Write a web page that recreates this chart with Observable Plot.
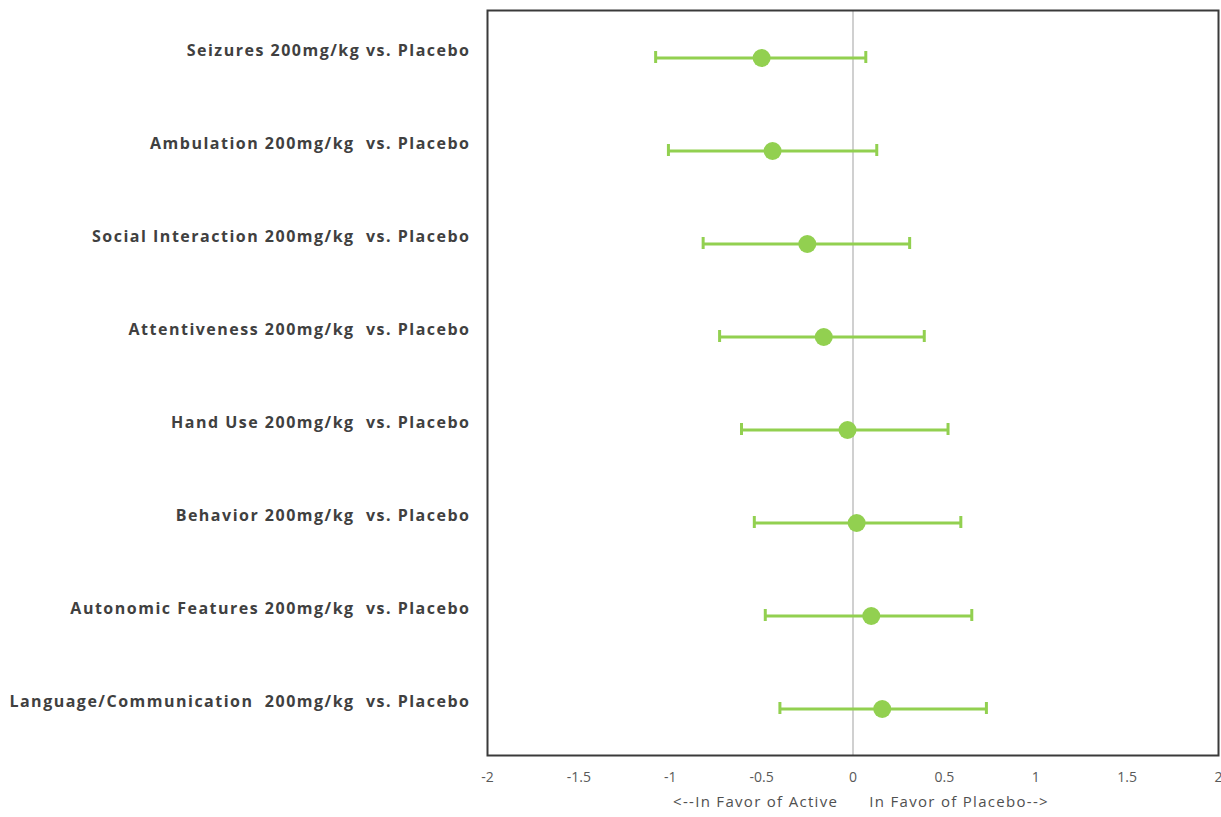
<!DOCTYPE html>
<html>
<head>
<meta charset="utf-8">
<script src="https://cdn.jsdelivr.net/npm/d3@7"></script>
<script src="https://cdn.jsdelivr.net/npm/@observablehq/plot@0.6"></script>
<style>
  html, body { margin: 0; padding: 0; background: #fff; }
  #chart svg { display: block; }
</style>
</head>
<body>
<div id="chart"></div>
<script>
const categories = [
  "Seizures 200mg/kg vs. Placebo",
  "Ambulation 200mg/kg  vs. Placebo",
  "Social Interaction 200mg/kg  vs. Placebo",
  "Attentiveness 200mg/kg  vs. Placebo",
  "Hand Use 200mg/kg  vs. Placebo",
  "Behavior 200mg/kg  vs. Placebo",
  "Autonomic Features 200mg/kg  vs. Placebo",
  "Language/Communication  200mg/kg  vs. Placebo"
];
const estimates = [-0.50, -0.44, -0.25, -0.16, -0.03, 0.02, 0.10, 0.16];
const lower     = [-1.08, -1.01, -0.82, -0.73, -0.61, -0.54, -0.48, -0.40];
const upper     = [ 0.07,  0.13,  0.31,  0.39,  0.52,  0.59,  0.65,  0.73];
const xTicks = [-2, -1.5, -1, -0.5, 0, 0.5, 1, 1.5, 2];
const xLabel = "<--In Favor of Active\u00a0\u00a0\u00a0\u00a0\u00a0\u00a0In Favor of Placebo-->";

const rows = categories.map((c, i) => ({
  label: c.replace(/ {2}/g, "\u00a0\u00a0"),
  key: c, est: estimates[i], lo: lower[i], hi: upper[i]
}));

const green = "#92D050";

const chart = Plot.plot({
  width: 1221,
  height: 817,
  marginLeft: 487,
  marginRight: 3,
  marginTop: 10,
  marginBottom: 62,
  style: { fontFamily: "'Open Sans', sans-serif", background: "#fff" },
  x: { domain: [-2, 2], ticks: xTicks },
  y: { domain: categories, padding: 0, axis: null },
  marks: [
    Plot.ruleX([0], { stroke: "#c0c0c0", strokeWidth: 1.5 }),
    Plot.frame({ stroke: "#3a3a3a", strokeWidth: 2 }),
    Plot.axisX({
      ticks: xTicks, tickSize: 0, tickPadding: 17,
      tickFormat: d => String(d),
      fontSize: 14, fill: "#595959",
      label: null
    }),
    Plot.text([xLabel], {
      text: d => d, frameAnchor: "bottom", dx: 8, dy: 51,
      fontSize: 15, fill: "#505050"
    }),
    Plot.ruleY(rows, { y: "key", x1: "lo", x2: "hi", stroke: green, strokeWidth: 3 }),
    Plot.tickX(rows, { y: "key", x: "lo", stroke: green, strokeWidth: 3, insetTop: 40, insetBottom: 41 }),
    Plot.tickX(rows, { y: "key", x: "hi", stroke: green, strokeWidth: 3, insetTop: 40, insetBottom: 41 }),
    Plot.dot(rows, { y: "key", x: "est", r: 9, fill: green, stroke: "none" }),
    Plot.text(rows, {
      y: "key", text: "label", frameAnchor: "left", textAnchor: "end",
      dx: -17, dy: -7, fontSize: 16, fontWeight: "bold", fill: "#404040"
    })
  ]
});
const rowLabels = new Set(rows.map(r => r.label));
const svg = d3.select(chart);
svg.selectAll("text").filter(function() { return rowLabels.has(this.textContent); })
  .style("letter-spacing", "1.5px");
svg.selectAll("text").filter(function() { return this.textContent === xLabel; })
  .style("letter-spacing", "1.3px");
document.getElementById("chart").append(chart);
</script>
</body>
</html>
